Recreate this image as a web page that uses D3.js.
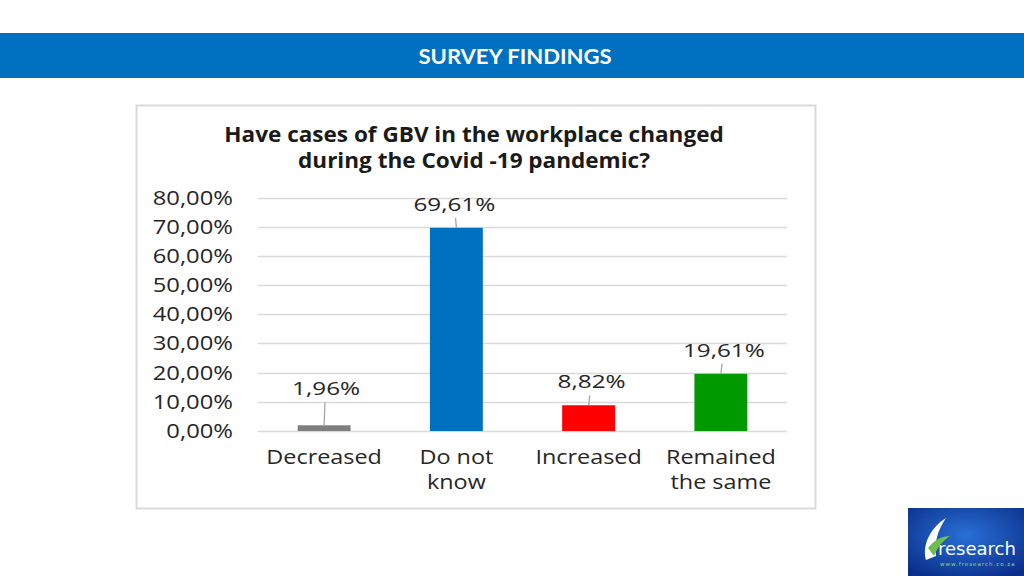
<!DOCTYPE html>
<html><head><meta charset="utf-8">
<script src="https://cdn.jsdelivr.net/npm/d3@7"></script>
<style>body{margin:0;background:#fff;}svg{display:block;}</style>
</head><body>
<svg id="c" width="1024" height="576"></svg>
<script>
const categories = [["Decreased"], ["Do not","know"], ["Increased"], ["Remained","the same"]];
const values = [1.96, 69.61, 8.82, 19.61];
const labels = ["1,96%", "69,61%", "8,82%", "19,61%"];
const colors = ["#7f7f7f", "#0070c0", "#ff0000", "#009900"];
const labelDx = [2, -2, 3, 3];
const labelDy = [30, 17, 17, 17];
const yTicks = [0,10,20,30,40,50,60,70,80];
const yTickLabels = ["0,00%","10,00%","20,00%","30,00%","40,00%","50,00%","60,00%","70,00%","80,00%"];
const titleLines = ["Have cases of GBV in the workplace changed", "during the Covid -19 pandemic?"];

const font = "'Open Sans', sans-serif";
const svg = d3.select("#c");

// scaled text helper (reference text is horizontally stretched)
function stext(sel, opts) {
  const g = sel.append("g").attr("transform", d => {
    const x = typeof opts.x === "function" ? opts.x(d) : opts.x;
    const y = typeof opts.y === "function" ? opts.y(d) : opts.y;
    return `translate(${x},${y}) scale(${opts.sx},1)`;
  });
  return g.append("text").attr("text-anchor", opts.anchor || "middle")
    .attr("font-family", opts.family || font).attr("font-size", opts.size)
    .attr("font-weight", opts.weight || "normal").attr("fill", opts.fill || "#262626");
}

svg.append("rect").attr("x",0).attr("y",33).attr("width",1024).attr("height",45).attr("fill","#0070c0");
stext(svg, {x:515, y:64, sx:1.05, size:21, weight:"bold", family:"Lato, 'Open Sans', sans-serif", fill:"#fff"})
  .text("SURVEY FINDINGS");

svg.append("rect").attr("x",136.5).attr("y",105.5).attr("width",679).attr("height",403)
  .attr("fill","#fff").attr("stroke","#d9d9d9").attr("stroke-width",2);

const titles = svg.selectAll("g.title").data(titleLines.map((t,i)=>({t,i}))).join("g").attr("class","title");
stext(titles, {x:474, y:d=>142 + d.i*26, sx:1.1, size:20.5, weight:"bold", fill:"#1a1a1a"}).text(d=>d.t);

const x = d3.scaleBand().domain(d3.range(categories.length)).range([258,787]).paddingInner(0.6).paddingOuter(0.3);
const y = d3.scaleLinear().domain([0,80]).range([431,197.5]);

const g = svg.append("g");
g.selectAll("line.grid").data(yTicks).join("line").attr("class","grid")
  .attr("x1",258).attr("x2",787).attr("y1",d=>Math.round(y(d))+0.5).attr("y2",d=>Math.round(y(d))+0.5)
  .attr("stroke","#d9d9d9").attr("stroke-width",1.3);

const yt = g.selectAll("g.ytick").data(yTicks.map((t,i)=>({t,i}))).join("g").attr("class","ytick");
stext(yt, {x:233, y:d=>y(d.t)+7, sx:1.22, size:19.5, anchor:"end"}).text(d=>yTickLabels[d.i]);

g.selectAll("rect.bar").data(values).join("rect").attr("class","bar")
  .attr("x",(d,i)=>x(i)).attr("width",x.bandwidth())
  .attr("y",d=>y(d)).attr("height",d=>y(0)-y(d)).attr("fill",(d,i)=>colors[i]);

// leader lines
g.selectAll("line.leader").data(values).join("line").attr("class","leader")
  .attr("x1",(d,i)=>x(i)+x.bandwidth()/2).attr("y1",d=>y(d))
  .attr("x2",(d,i)=>x(i)+x.bandwidth()/2+labelDx[i]*0.4).attr("y2",(d,i)=>y(d)-labelDy[i]+7)
  .attr("stroke","#a6a6a6").attr("stroke-width",1.3);

const vals = g.selectAll("g.val").data(values.map((v,i)=>({v,i}))).join("g").attr("class","val");
stext(vals, {x:d=>x(d.i)+x.bandwidth()/2+labelDx[d.i], y:d=>y(d.v)-labelDy[d.i], sx:1.35, size:18})
  .text(d=>labels[d.i]);

const cats = g.selectAll("g.xcat").data(categories.map((c,i)=>({c,i}))).join("g").attr("class","xcat");
stext(cats, {x:d=>x(d.i)+x.bandwidth()/2, y:464, sx:1.2, size:19.5})
  .selectAll("tspan").data(d=>d.c).join("tspan")
  .attr("x",0).attr("dy",(d,i)=>i?25:0).text(d=>d);

// logo
const defs = svg.append("defs");
const rg = defs.append("radialGradient").attr("id","lg").attr("cx","50%").attr("cy","40%").attr("r","70%");
rg.append("stop").attr("offset","0%").attr("stop-color","#2a6fd6");
rg.append("stop").attr("offset","100%").attr("stop-color","#0a2f8a");
svg.append("rect").attr("x",908).attr("y",508).attr("width",116).attr("height",68).attr("fill","url(#lg)");
svg.append("path").attr("d","M926,560 C922,545 930,528 946,518 C938,530 934,542 936,556 Z").attr("fill","#fff");
svg.append("path").attr("d","M928,548 C934,540 942,536 950,536 C944,540 938,546 934,556 Z").attr("fill","#6cc04a");
svg.append("text").attr("x",938).attr("y",555).attr("font-family","'DejaVu Sans', sans-serif").attr("font-size",18)
  .attr("fill","#fff").text("research");
svg.append("text").attr("x",940).attr("y",566).attr("font-family","'DejaVu Sans', sans-serif").attr("font-size",5.5)
  .attr("fill","#9ad36a").attr("letter-spacing",1).text("www.fresearch.co.za");
</script>
</body></html>
